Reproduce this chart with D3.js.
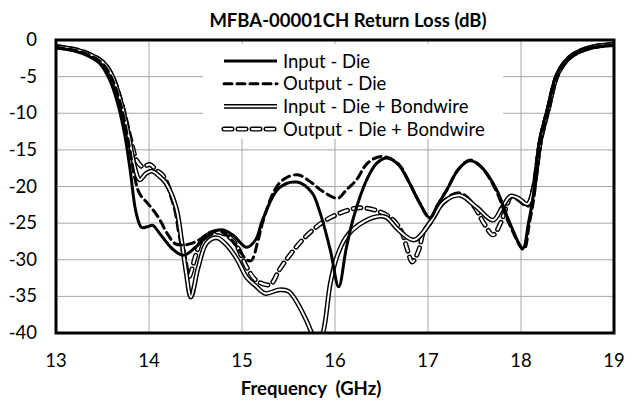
<!DOCTYPE html>
<html>
<head>
<meta charset="utf-8">
<script src="https://cdn.jsdelivr.net/npm/d3@7"></script>
<style>
  body { margin: 0; background: #fff; }
  text { font-family: Lato, "Open Sans", sans-serif; fill: #000; }
</style>
</head>
<body>
<script>
'use strict';

// frequency (GHz) / return loss (dB) pairs
const inputDie = [
  [13.0, -1.1], [13.2, -1.5], [13.35, -2.2], [13.47, -3.2], [13.58, -5.5], [13.66, -8.5],
  [13.74, -13], [13.8, -18], [13.86, -23.5], [13.92, -25.6], [13.98, -25.5], [14.04, -25.3],
  [14.12, -26.5], [14.25, -28.5], [14.37, -29.4], [14.5, -28.3], [14.65, -26.5], [14.78, -25.9],
  [14.9, -26.6], [15.05, -28.3], [15.15, -27.2], [15.22, -24.6], [15.4, -20.2], [15.59, -19.4],
  [15.75, -20.8], [15.84, -23.6], [15.95, -28.7], [16.04, -33.7], [16.12, -28.5], [16.2, -24.2],
  [16.34, -19.1], [16.45, -16.8], [16.56, -16.1], [16.68, -17.0], [16.8, -19.5], [16.9, -22],
  [17.02, -24.3], [17.1, -22.6], [17.2, -20.5], [17.33, -17.6], [17.45, -16.5], [17.57, -17.3],
  [17.74, -20.5], [17.88, -25], [18.02, -28.4], [18.08, -25], [18.13, -21.4], [18.2, -13.7],
  [18.28, -9.6], [18.39, -4.5], [18.53, -2.3], [18.74, -1.1], [19.0, -0.7]
];
const outputDie = [
  [13.0, -1.0], [13.2, -1.4], [13.35, -2.0], [13.5, -3.2], [13.6, -5.2], [13.7, -9],
  [13.78, -14], [13.85, -19], [13.9, -21], [14.0, -22.5], [14.1, -24.2], [14.2, -26.5],
  [14.28, -27.8], [14.35, -28], [14.45, -27.8], [14.55, -27.2], [14.65, -26.3], [14.75, -26],
  [14.85, -26.8], [14.95, -28.3], [15.05, -30], [15.1, -30.1], [15.17, -27.5], [15.22, -25],
  [15.35, -20.5], [15.45, -19], [15.6, -18.4], [15.75, -19.5], [15.85, -20.5], [16.03, -21.6],
  [16.12, -20.5], [16.23, -19.1], [16.35, -16.8], [16.5, -15.9], [16.68, -16.9], [16.8, -19.5],
  [16.9, -22], [17.02, -24.3], [17.1, -22.6], [17.2, -20.5], [17.33, -17.6], [17.45, -16.4],
  [17.57, -17.3], [17.73, -20.5], [17.87, -25], [18.03, -28.6], [18.09, -25], [18.14, -21.4],
  [18.21, -13.7], [18.29, -9.6], [18.4, -4.5], [18.54, -2.3], [18.75, -1.1], [19.0, -0.7]
];
const inputBond = [
  [13.0, -0.9], [13.2, -1.3], [13.35, -1.9], [13.5, -3.0], [13.6, -4.8], [13.7, -8.5],
  [13.78, -13], [13.85, -17.5], [13.9, -19.1], [13.97, -18.2], [14.03, -17.9], [14.12, -18.7],
  [14.18, -19.5], [14.29, -22.8], [14.35, -27.3], [14.4, -31.8], [14.45, -35.1], [14.53, -31],
  [14.62, -27.7], [14.73, -27.0], [14.85, -28.2], [14.95, -30], [15.05, -32.4], [15.15, -33.6],
  [15.25, -34.6], [15.4, -34.1], [15.5, -34.3], [15.6, -36], [15.7, -38.5], [15.75, -40],
  [15.81, -41.5], [15.87, -40], [15.95, -33.2], [16.02, -29.6], [16.12, -26.9], [16.26, -25.2],
  [16.45, -24.1], [16.55, -24.2], [16.68, -25.9], [16.85, -27.3], [17.03, -24.8], [17.17, -22.1],
  [17.34, -21.2], [17.52, -22.8], [17.7, -24.6], [17.8, -22.8], [17.89, -21.3], [17.97, -21.6],
  [18.07, -22.4], [18.13, -20.5], [18.21, -13.7], [18.29, -9.6], [18.4, -4.5], [18.54, -2.2],
  [18.75, -1.0], [19.0, -0.6]
];
const outputBond = [
  [13.0, -0.9], [13.2, -1.3], [13.35, -1.9], [13.5, -3.0], [13.6, -4.8], [13.7, -8.5],
  [13.8, -13.5], [13.87, -16.5], [13.93, -17.3], [14.01, -17.0], [14.08, -17.8], [14.15, -18.5],
  [14.28, -22.8], [14.33, -26.3], [14.38, -29.6], [14.43, -32.3], [14.5, -29.5], [14.57, -27.3],
  [14.73, -26.2], [14.9, -27.3], [15.05, -31], [15.15, -32.8], [15.3, -33.4], [15.4, -31.4],
  [15.5, -29.6], [15.68, -26.9], [15.9, -24.6], [16.15, -23.2], [16.27, -22.9], [16.45, -23.3],
  [16.62, -24.5], [16.72, -26.3], [16.78, -28.7], [16.83, -30.3], [16.9, -28.7], [16.95, -26.3],
  [17.03, -24.8], [17.17, -22.1], [17.34, -21.0], [17.5, -22.8], [17.6, -25], [17.7, -26.6],
  [17.78, -25], [17.85, -22.5], [17.89, -21.4], [17.97, -21.7], [18.07, -22.6], [18.13, -20.5],
  [18.21, -13.7], [18.29, -9.6], [18.4, -4.5], [18.54, -2.2], [18.75, -1.0], [19.0, -0.6]
];

const seriesNames = ['Input - Die', 'Output - Die', 'Input - Die + Bondwire', 'Output - Die + Bondwire'];
const xTicks = [13, 14, 15, 16, 17, 18, 19];
const yTicks = [0, -5, -10, -15, -20, -25, -30, -35, -40];

(function() {
  const width = 637, height = 404;
  const left = 56, right = 614, top = 40, bottom = 333;
  const fontSize = '18.5px';

  const svg = d3.select('body').append('svg')
    .attr('width', width)
    .attr('height', height);

  const x = d3.scaleLinear().domain([13, 19]).range([left, right]);
  const y = d3.scaleLinear().domain([0, -40]).range([top, bottom]);

  // gridlines
  svg.append('g')
    .selectAll('line')
    .data(xTicks.slice(1, -1))
    .enter().append('line')
    .attr('x1', d => x(d)).attr('x2', d => x(d))
    .attr('y1', top).attr('y2', bottom)
    .style('stroke', '#a6a6a6').style('stroke-width', 1);
  svg.append('g')
    .selectAll('line')
    .data(yTicks.slice(1, -1))
    .enter().append('line')
    .attr('x1', left).attr('x2', right)
    .attr('y1', d => y(d)).attr('y2', d => y(d))
    .style('stroke', '#a6a6a6').style('stroke-width', 1);

  // legend box hides the grid behind it
  svg.append('rect')
    .attr('x', 203).attr('y', 44)
    .attr('width', 300).attr('height', 95)
    .style('fill', '#fff');

  svg.append('clipPath').attr('id', 'plot')
    .append('rect')
    .attr('x', left).attr('y', top)
    .attr('width', right - left).attr('height', bottom - top);

  const line = d3.line()
    .x(d => x(d[0]))
    .y(d => y(d[1]))
    .curve(d3.curveCatmullRom.alpha(0.5));

  const plot = svg.append('g').attr('clip-path', 'url(#plot)');

  // each series drawn as one or two strokes: [width, colour, dash]
  const styles = [
    [[3, '#000', null]],
    [[3, '#000', '8,5']],
    [[4.8, '#000', null], [1.9, '#fff', null]],
    [[5, '#000', '8,6'], [2.2, '#fff', '8,6']]
  ];
  const data = [inputDie, outputDie, inputBond, outputBond];

  [3, 2, 1, 0].forEach(i => {
    styles[i].forEach(s => {
      plot.append('path')
        .datum(data[i])
        .attr('d', line)
        .style('fill', 'none')
        .style('stroke', s[1])
        .style('stroke-width', s[0])
        .style('stroke-dasharray', s[2])
        .style('stroke-linecap', s[2] ? 'round' : 'butt')
        .style('stroke-linejoin', 'round');
    });
  });

  // plot border
  svg.append('rect')
    .attr('x', left).attr('y', top)
    .attr('width', right - left).attr('height', bottom - top)
    .style('fill', 'none').style('stroke', '#000').style('stroke-width', 3);

  // axes labels
  svg.append('g')
    .selectAll('text')
    .data(yTicks)
    .enter().append('text')
    .attr('x', 37)
    .attr('y', d => y(d) + 6)
    .style('text-anchor', 'end')
    .style('font-size', fontSize)
    .text(d => d);

  svg.append('g')
    .selectAll('text')
    .data(xTicks)
    .enter().append('text')
    .attr('x', d => x(d))
    .attr('y', 367)
    .style('text-anchor', 'middle')
    .style('font-size', fontSize)
    .text(d => d);

  svg.append('text')
    .attr('x', 348).attr('y', 27)
    .style('text-anchor', 'middle')
    .style('font-size', fontSize)
    .style('font-weight', 'bold')
    .text('MFBA-00001CH Return Loss (dB)');

  svg.append('text')
    .attr('x', 311).attr('y', 395)
    .style('text-anchor', 'middle')
    .style('font-size', fontSize)
    .style('font-weight', 'bold')
    .style('white-space', 'pre')
    .text('Frequency  (GHz)');

  // legend
  const legend = svg.selectAll('.legend')
    .data(seriesNames)
    .enter().append('g')
    .attr('class', 'legend')
    .attr('transform', (d, i) => 'translate(0,' + (61 + i * 22.7) + ')');

  legend.each(function(d, i) {
    const g = d3.select(this);
    styles[i].forEach(s => {
      g.append('line')
        .attr('x1', 224).attr('x2', 277)
        .style('stroke', s[1])
        .style('stroke-width', s[0])
        .style('stroke-dasharray', s[2])
        .style('stroke-linecap', s[2] ? 'round' : 'butt');
    });
    g.append('text')
      .attr('x', 283)
      .attr('y', 6.5)
      .style('font-size', fontSize)
      .text(d);
  });
})();
</script>
</body>
</html>
